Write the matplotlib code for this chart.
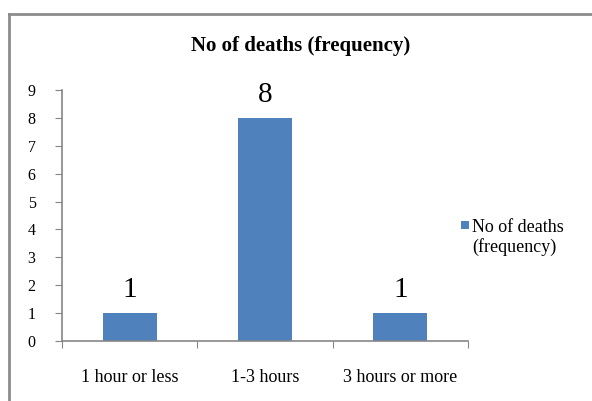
import matplotlib
matplotlib.use("Agg")
import matplotlib.pyplot as plt
from matplotlib.lines import Line2D
from matplotlib.patches import Rectangle

categories = ["1 hour or less", "1-3 hours", "3 hours or more"]
deaths = [1, 8, 1]
series_name = "No of deaths (frequency)"

plt.rcParams['font.family'] = ['Liberation Serif', 'DejaVu Serif']

W, H = 592, 401
fig = plt.figure(figsize=(W / 100, H / 100), dpi=100)
ax = fig.add_axes([62 / W, 1 - 341 / H, (468 - 62) / W, (341 - 90) / H])

bar_color = '#4F81BD'
grey = '#868686'
x = list(range(len(categories)))
bars = ax.bar(x, deaths, width=0.4, color=bar_color, zorder=2)

for xi, v in zip(x, deaths):
    ax.annotate(str(v), (xi, v), xytext=(0, 11.5), textcoords='offset points',
                ha='center', va='baseline', fontsize=21)

ax.set_xlim(-0.5, len(categories) - 0.5)
ax.set_ylim(0, 9)
ax.set_yticks(range(0, 10))
ax.tick_params(axis='y', length=5, color=grey, labelsize=11.5, pad=14)

bounds = [i - 0.5 for i in range(len(categories) + 1)]
ax.set_xticks(bounds)
ax.set_xticklabels([''] * len(bounds))
ax.tick_params(axis='x', which='major', length=5, color=grey)
ax.set_xticks(x, minor=True)
ax.set_xticklabels(categories, minor=True)
ax.tick_params(axis='x', which='minor', length=0, pad=20, labelsize=13)

for s in ['top', 'right']:
    ax.spines[s].set_visible(False)
for s in ['left', 'bottom']:
    ax.spines[s].set_color(grey)
    ax.spines[s].set_linewidth(1.2)

fig.text(301 / W, 1 - 46 / H, series_name, ha='center', va='center',
         fontsize=15, fontweight='bold')

# legend
fig.add_artist(Rectangle((461 / W, 1 - 229 / H), 8 / W, 8 / H,
                         transform=fig.transFigure, facecolor=bar_color, edgecolor='none'))
fig.text(472 / W, 1 - 232 / H, "No of deaths", ha='left', va='baseline', fontsize=13)
fig.text(472 / W, 1 - 252 / H, "(frequency)", ha='left', va='baseline', fontsize=13)

# chart border (top and left visible)
fig.add_artist(Line2D([9 / W, 1.0], [1 - 14 / H, 1 - 14 / H], transform=fig.transFigure,
                      color='#8c8c8c', linewidth=2))
fig.add_artist(Line2D([9 / W, 9 / W], [0, 1 - 14 / H], transform=fig.transFigure,
                      color='#8c8c8c', linewidth=2))

fig.savefig("out.png", dpi=100)
